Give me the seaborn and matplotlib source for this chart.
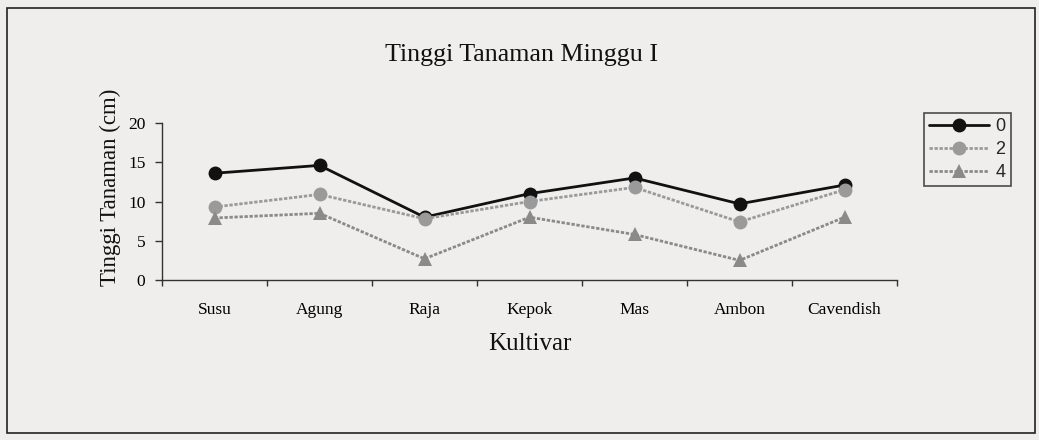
import numpy as np
import pandas as pd
import seaborn as sns
import matplotlib
matplotlib.use("Agg")
import matplotlib.pyplot as plt
from matplotlib.patches import Rectangle
from matplotlib.lines import Line2D

kultivar = ["Susu", "Agung", "Raja", "Kepok", "Mas", "Ambon", "Cavendish"]
series_names = ["0", "2", "4"]
vals_0 = [13.6, 14.6, 8.0, 11.0, 13.0, 9.7, 12.1]
vals_2 = [9.3, 10.9, 7.8, 10.0, 11.8, 7.4, 11.5]
vals_4 = [7.9, 8.5, 2.7, 8.0, 5.8, 2.5, 8.0]
yticks = [0, 5, 10, 15, 20]

df = pd.DataFrame({
    "Kultivar": kultivar * 3,
    "Tinggi": vals_0 + vals_2 + vals_4,
    "Seri": [s for s in series_names for _ in kultivar],
})

bg = "#efeeec"
sns.set_theme(style="white")
plt.rcParams["font.family"] = ["Liberation Serif", "DejaVu Serif"]

fig = plt.figure(figsize=(10.39, 4.4), dpi=100, facecolor=bg)
ax = fig.add_axes([162/1039, 1-280/440, (897-162)/1039, (280-123)/440])
ax.set_facecolor(bg)

palette = {"0": "#111111", "2": "#9a9a9a", "4": "#8a8a8a"}
markers = {"0": "o", "2": "o", "4": "^"}
dashes = {"0": "", "2": (1.2, 0.6), "4": (1.2, 0.6)}
sns.lineplot(data=df, x="Kultivar", y="Tinggi", hue="Seri", style="Seri",
             palette=palette, markers=markers, dashes=dashes, sort=False,
             markersize=10, linewidth=2.0, markeredgewidth=0, ax=ax, legend=False)

ax.set_xlim(-0.5, 6.5)
ax.set_ylim(0, 20)
ax.set_yticks(yticks)
ax.set_yticklabels([str(v) for v in yticks], fontsize=12.5)
ax.set_xticks(range(len(kultivar)))
ax.set_xticklabels(kultivar, fontsize=12.5)
ax.set_xticks(np.arange(-0.5, 7.0, 1.0), minor=True)
ax.tick_params(axis="x", which="major", length=0, pad=16, colors="#000000")
ax.tick_params(axis="x", which="minor", length=4, width=1, direction="out", color="#333333", bottom=True)
ax.tick_params(axis="y", which="major", length=5, width=1, direction="out", color="#333333", left=True, pad=7, colors="#000000")
for s in ["top", "right"]:
    ax.spines[s].set_visible(False)
for s in ["left", "bottom"]:
    ax.spines[s].set_color("#333333")
    ax.spines[s].set_linewidth(1.0)
ax.grid(False)

ax.set_xlabel("Kultivar", fontsize=18, labelpad=11, color="#111111")
ax.set_ylabel("Tinggi Tanaman (cm)", fontsize=16.5, color="#111111")
ax.yaxis.set_label_coords(-0.056, 0.59)
fig.text(522/1039, 1-55/440, "Tinggi Tanaman Minggu I", fontsize=18.7, ha="center", va="center", color="#111111")

handles = [Line2D([0], [0], color=palette[s], marker=markers[s], markersize=10,
                  markeredgewidth=0, linewidth=2.0,
                  linestyle="-" if s == "0" else (0, dashes[s]))
           for s in series_names]
leg = fig.legend(handles, series_names, loc="upper left",
                 bbox_to_anchor=(924/1039, 1-113/440), frameon=True,
                 fancybox=False, edgecolor="#222222", facecolor=bg,
                 handlelength=3.3, handletextpad=0.35, borderpad=0.3,
                 labelspacing=0.32, borderaxespad=0,
                 prop={"family": ["Liberation Sans"], "size": 13})
leg.get_frame().set_linewidth(1.2)

fig.patches.append(Rectangle((7/1039, 1-433/440), (1035-7)/1039, (433-8)/440,
                             transform=fig.transFigure, fill=False,
                             edgecolor="#222222", linewidth=1.2))

fig.savefig("out.png", dpi=100, facecolor=bg)
